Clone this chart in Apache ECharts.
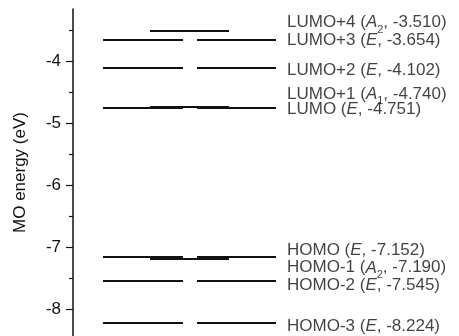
<!DOCTYPE html>
<html>
<head>
<meta charset="utf-8">
<script src="https://cdn.jsdelivr.net/npm/echarts@6/dist/echarts.min.js"></script>
<style>
  html, body { margin: 0; padding: 0; background: #fff; }
  #chart { width: 459px; height: 336px; }
</style>
</head>
<body>
<div id="chart"></div>
<script>
  // orbital levels
  const levelNames = ['LUMO+4', 'LUMO+3', 'LUMO+2', 'LUMO+1', 'LUMO', 'HOMO', 'HOMO-1', 'HOMO-2', 'HOMO-3']
  const symmetry = ['A2', 'E', 'E', 'A1', 'E', 'E', 'A2', 'E', 'E']
  const energies = [-3.510, -3.654, -4.102, -4.740, -4.751, -7.152, -7.190, -7.545, -8.224]
  const yTicks = [-8, -7, -6, -5, -4]
  const yMinorTicks = [-7.5, -6.5, -5.5, -4.5, -3.5]

  // layout (x in px from axis)
  const segE = [[30, 110], [124, 203]]
  const segA = [[77, 156]]
  const labelDy = [-8, 1, 3, -13, 2, -6, 9, 4, 3]
  const font = '"Liberation Sans", Arial, sans-serif'
  const ink = '#111'

  const segments = []
  energies.forEach((e, i) => {
    const segs = symmetry[i] === 'E' ? segE : segA
    segs.forEach(s => segments.push({ coords: [[s[0], e], [s[1], e]] }))
  })

  const labelText = i => {
    const sym = symmetry[i]
    let s = '{i|' + sym[0] + '}'
    if (sym.length > 1) s += '{s|' + sym.slice(1) + '}'
    return '{n|' + levelNames[i] + ' (}' + s + '{n|, ' + energies[i].toFixed(3) + ')}'
  }

  const labelData = energies.map((e, i) => ({
    value: [203, e],
    label: { offset: [0, labelDy[i]], formatter: labelText(i) },
  }))

  const chart = echarts.init(document.getElementById('chart'))
  const option = {
    animation: false,
    grid: { left: 73, right: 183, top: 9, bottom: 0, containLabel: false },
    xAxis: { type: 'value', min: 0, max: 203, show: false },
    yAxis: [
      {
        type: 'value',
        min: -8.435,
        max: -3.161,
        name: 'MO energy (eV)',
        nameLocation: 'middle',
        nameGap: 44,
        nameTextStyle: { fontFamily: font, fontSize: 17, color: ink },
        axisLine: { show: true, lineStyle: { color: ink, width: 1.5 } },
        axisTick: { show: true, length: 7, customValues: yTicks, lineStyle: { color: ink, width: 1.2 } },
        axisLabel: { customValues: yTicks, margin: 12, fontFamily: font, fontSize: 17, color: ink },
        splitLine: { show: false },
      },
      {
        type: 'value',
        min: -8.435,
        max: -3.161,
        position: 'left',
        axisLine: { show: false },
        axisTick: { show: true, length: 4, customValues: yMinorTicks, lineStyle: { color: ink, width: 1.2 } },
        axisLabel: { show: false },
        splitLine: { show: false },
      },
    ],
    series: [
      {
        type: 'lines',
        coordinateSystem: 'cartesian2d',
        silent: true,
        lineStyle: { color: ink, width: 2, opacity: 1 },
        data: segments,
      },
      {
        type: 'scatter',
        symbolSize: 0,
        silent: true,
        clip: false,
        label: {
          show: true,
          position: 'right',
          distance: 11,
          rich: {
            n: { fontFamily: font, fontSize: 17, color: ink, lineHeight: 17 },
            i: { fontFamily: font, fontSize: 17, color: ink, fontStyle: 'italic', lineHeight: 17 },
            s: { fontFamily: font, fontSize: 11, color: ink, lineHeight: 11, padding: [14, 0, 0, 0] },
          },
        },
        data: labelData,
      },
    ],
  }
  chart.setOption(option)
</script>
</body>
</html>
